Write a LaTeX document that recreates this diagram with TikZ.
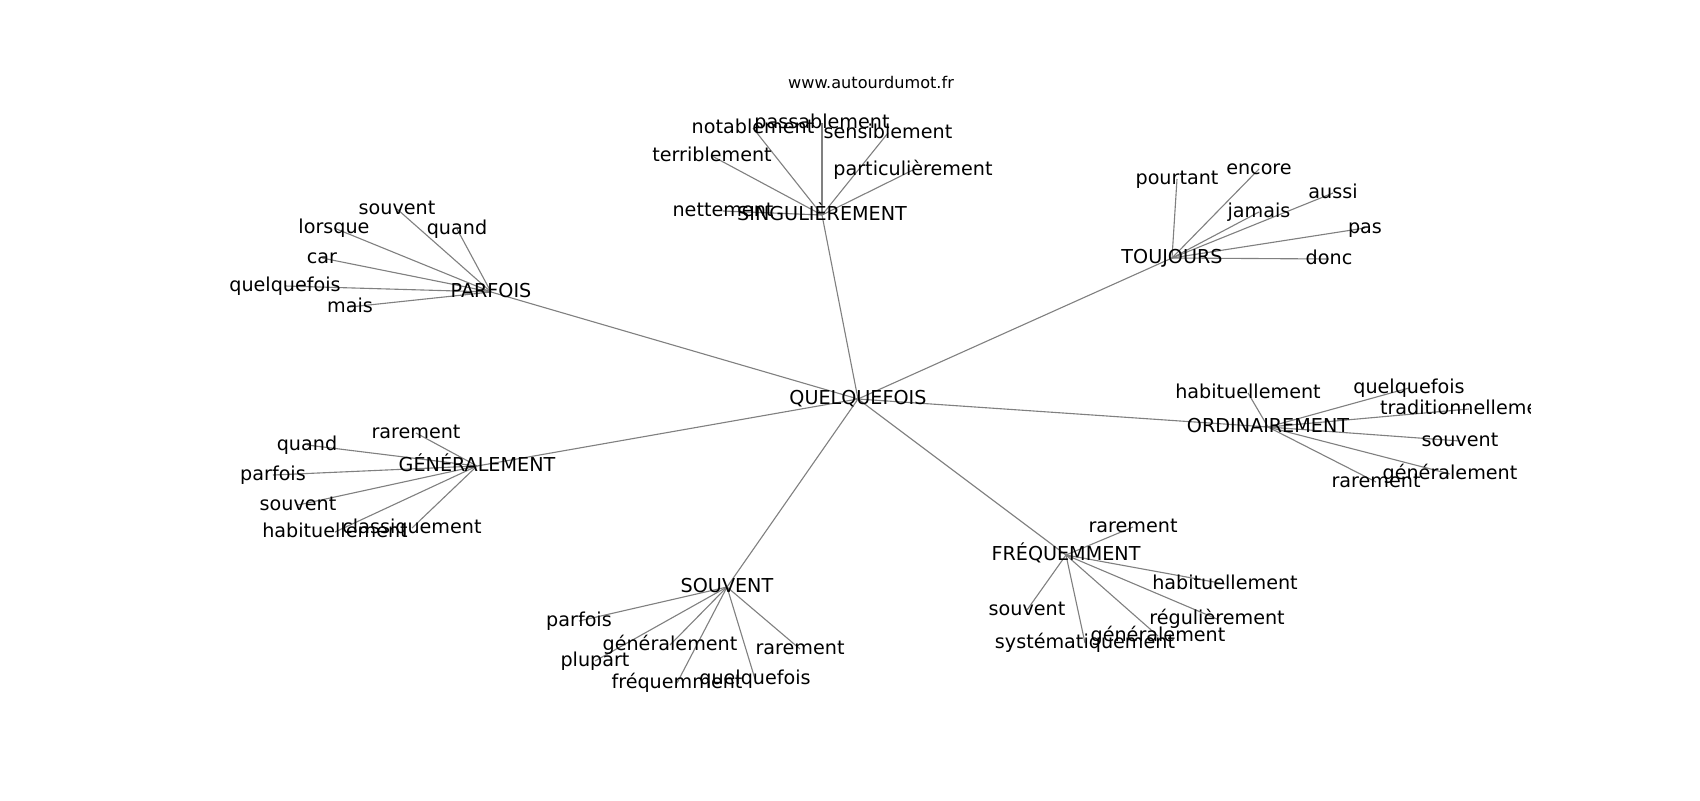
\documentclass[tikz,border=0pt]{standalone}
\usepackage{fontspec}
\setmainfont{DejaVu Sans}
\usetikzlibrary{backgrounds}

\begin{document}
\begin{tikzpicture}[
  x=0.72pt, y=-0.72pt,
  word/.style={inner sep=0pt, text height=0.85em, text depth=0.06em, font=\fontsize{13.8}{16}\selectfont},
  site/.style={inner sep=0pt, font=\fontsize{11.6}{14}\selectfont},
  link/.style={draw=gray, line width=0.8pt}
]
\useasboundingbox (0,0) rectangle (1700,800);

% Site name
\node[site] (site) at (871,82) {www.autourdumot.fr};

\begin{scope}
\clip (212.5,96) rectangle (1530,712);

%% CENTRE
\node[word] (quel) at (858,399) {QUELQUEFOIS};

%% HUBS
\node[word] (sing) at (822,215) {SINGULIÈREMENT};
\node[word] (touj) at (1172,258) {TOUJOURS};
\node[word] (parf) at (491,292) {PARFOIS};
\node[word] (gene) at (477,466) {GÉNÉRALEMENT};
\node[word] (ordi) at (1268,427) {ORDINAIREMENT};
\node[word] (souv) at (727,587) {SOUVENT};
\node[word] (freq) at (1066,555) {FRÉQUEMMENT};

%% SINGULIEREMENT
\node[word] (sing_pas) at (822,123) {passablement};
\node[word] (sing_not) at (753,128) {notablement};
\node[word] (sing_sen) at (888,133) {sensiblement};
\node[word] (sing_ter) at (712,156) {terriblement};
\node[word] (sing_par) at (913,170) {particulièrement};
\node[word] (sing_net) at (723,211) {nettement};

%% TOUJOURS
\node[word] (touj_pou) at (1177,179) {pourtant};
\node[word] (touj_enc) at (1259,169) {encore};
\node[word] (touj_aus) at (1333,193) {aussi};
\node[word] (touj_jam) at (1259,212) {jamais};
\node[word] (touj_pas) at (1365,228) {pas};
\node[word] (touj_don) at (1329,259) {donc};

%% PARFOIS
\node[word] (parf_sou) at (397,209) {souvent};
\node[word] (parf_lor) at (334,228) {lorsque};
\node[word] (parf_qua) at (457,229) {quand};
\node[word] (parf_car) at (322,258) {car};
\node[word] (parf_que) at (285,286) {quelquefois};
\node[word] (parf_mai) at (350,307) {mais};

%% GENERALEMENT
\node[word] (gene_rar) at (416,433) {rarement};
\node[word] (gene_qua) at (307,445) {quand};
\node[word] (gene_par) at (273,475) {parfois};
\node[word] (gene_sou) at (298,505) {souvent};
\node[word] (gene_hab) at (335,532) {habituellement};
\node[word] (gene_cla) at (412,528) {classiquement};

%% ORDINAIREMENT
\node[word] (ordi_hab) at (1248,393) {habituellement};
\node[word] (ordi_que) at (1409,388) {quelquefois};
\node[word] (ordi_tra) at (1469,409) {traditionnellement};
\node[word] (ordi_sou) at (1460,441) {souvent};
\node[word] (ordi_gen) at (1450,474) {généralement};
\node[word] (ordi_rar) at (1376,482) {rarement};

%% SOUVENT
\node[word] (souv_par) at (579,621) {parfois};
\node[word] (souv_gen) at (670,645) {généralement};
\node[word] (souv_plu) at (595,661) {plupart};
\node[word] (souv_fre) at (677,683) {fréquemment};
\node[word] (souv_que) at (755,679) {quelquefois};
\node[word] (souv_rar) at (800,649) {rarement};

%% FREQUEMMENT
\node[word] (freq_rar) at (1133,527) {rarement};
\node[word] (freq_hab) at (1225,584) {habituellement};
\node[word] (freq_reg) at (1217,619) {régulièrement};
\node[word] (freq_gen) at (1158,636) {généralement};
\node[word] (freq_sys) at (1085,643) {systématiquement};
\node[word] (freq_sou) at (1027,610) {souvent};

%% EDGES
\begin{scope}[on background layer]
  % centre to hubs
  \draw[link] (quel.center) -- (sing.center);
  \draw[link] (quel.center) -- (touj.center);
  \draw[link] (quel.center) -- (parf.center);
  \draw[link] (quel.center) -- (gene.center);
  \draw[link] (quel.center) -- (ordi.center);
  \draw[link] (quel.center) -- (souv.center);
  \draw[link] (quel.center) -- (freq.center);

  % hubs to leaves
  \draw[link] (sing.center) -- (sing_pas.center);
  \draw[link] (sing.center) -- (sing_not.center);
  \draw[link] (sing.center) -- (sing_sen.center);
  \draw[link] (sing.center) -- (sing_ter.center);
  \draw[link] (sing.center) -- (sing_par.center);
  \draw[link] (sing.center) -- (sing_net.center);

  \draw[link] (touj.center) -- (touj_pou.center);
  \draw[link] (touj.center) -- (touj_enc.center);
  \draw[link] (touj.center) -- (touj_aus.center);
  \draw[link] (touj.center) -- (touj_jam.center);
  \draw[link] (touj.center) -- (touj_pas.center);
  \draw[link] (touj.center) -- (touj_don.center);

  \draw[link] (parf.center) -- (parf_sou.center);
  \draw[link] (parf.center) -- (parf_lor.center);
  \draw[link] (parf.center) -- (parf_qua.center);
  \draw[link] (parf.center) -- (parf_car.center);
  \draw[link] (parf.center) -- (parf_que.center);
  \draw[link] (parf.center) -- (parf_mai.center);

  \draw[link] (gene.center) -- (gene_rar.center);
  \draw[link] (gene.center) -- (gene_qua.center);
  \draw[link] (gene.center) -- (gene_par.center);
  \draw[link] (gene.center) -- (gene_sou.center);
  \draw[link] (gene.center) -- (gene_hab.center);
  \draw[link] (gene.center) -- (gene_cla.center);

  \draw[link] (ordi.center) -- (ordi_hab.center);
  \draw[link] (ordi.center) -- (ordi_que.center);
  \draw[link] (ordi.center) -- (ordi_tra.center);
  \draw[link] (ordi.center) -- (ordi_sou.center);
  \draw[link] (ordi.center) -- (ordi_gen.center);
  \draw[link] (ordi.center) -- (ordi_rar.center);

  \draw[link] (souv.center) -- (souv_par.center);
  \draw[link] (souv.center) -- (souv_gen.center);
  \draw[link] (souv.center) -- (souv_plu.center);
  \draw[link] (souv.center) -- (souv_fre.center);
  \draw[link] (souv.center) -- (souv_que.center);
  \draw[link] (souv.center) -- (souv_rar.center);

  \draw[link] (freq.center) -- (freq_rar.center);
  \draw[link] (freq.center) -- (freq_hab.center);
  \draw[link] (freq.center) -- (freq_reg.center);
  \draw[link] (freq.center) -- (freq_gen.center);
  \draw[link] (freq.center) -- (freq_sys.center);
  \draw[link] (freq.center) -- (freq_sou.center);
\end{scope}
\end{scope}

\end{tikzpicture}
\end{document}
